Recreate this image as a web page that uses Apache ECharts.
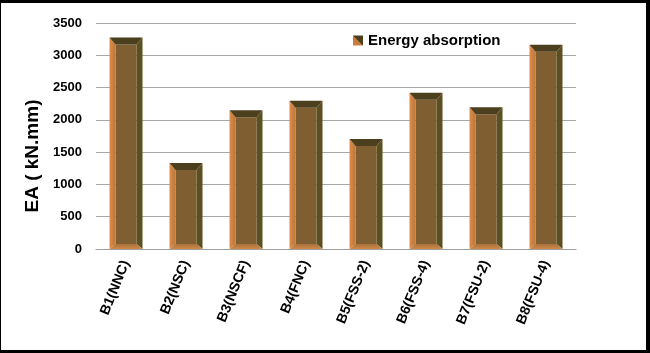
<!DOCTYPE html>
<html>
<head>
<meta charset="utf-8">
<script src="https://cdn.jsdelivr.net/npm/echarts@6/dist/echarts.min.js"></script>
<style>
  body { margin: 0; }
  #frame { position: relative; width: 650px; height: 353px; background: #000; }
  #chart { position: absolute; left: 1px; top: 3px; width: 645px; height: 347px; background: #fff; }
</style>
</head>
<body>
<div id="frame"><div id="chart"></div></div>
<script>
var categories = ['B1(NNC)', 'B2(NSC)', 'B3(NSCF)', 'B4(FNC)', 'B5(FSS-2)', 'B6(FSS-4)', 'B7(FSU-2)', 'B8(FSU-4)']
var energy = [3275, 1330, 2150, 2295, 1705, 2420, 2195, 3165]
var yTicks = [0, 500, 1000, 1500, 2000, 2500, 3000, 3500]

var chart = echarts.init(document.getElementById('chart'))

// bevelled 3D-looking bar, like the excel one
function renderBar(params, api) {
  var i = api.value(0)
  var top = api.coord([i, api.value(1)])
  var base = api.coord([i, 0])
  var w = api.size([1, 0])[0] * 0.55
  var x0 = top[0] - w / 2, x1 = top[0] + w / 2
  var y0 = top[1], y1 = base[1]
  var bl = 6, br = 6, bt = 7, bb = 5
  var ix0 = x0 + bl, ix1 = x1 - br, iy0 = y0 + bt, iy1 = y1 - bb
  function poly(pts, fill) {
    return { type: 'polygon', shape: { points: pts }, style: { fill: fill } }
  }
  return {
    type: 'group',
    children: [
      { type: 'rect', shape: { x: ix0, y: iy0, width: ix1 - ix0, height: iy1 - iy0 }, style: { fill: '#7f5f31' } },
      poly([[x0, y0], [ix0, iy0], [ix0, iy1], [x0, y1]],
        new echarts.graphic.LinearGradient(0, 0, 1, 0, [{ offset: 0, color: '#e08c48' }, { offset: 1, color: '#b9773a' }])),
      poly([[x1, y0], [ix1, iy0], [ix1, iy1], [x1, y1]], '#5c5021'),
      poly([[x0, y0], [x1, y0], [ix1, iy0], [ix0, iy0]], '#4b3f1e'),
      poly([[x0, y1], [x1, y1], [ix1, iy1], [ix0, iy1]],
        new echarts.graphic.LinearGradient(0, 0, 0, 1, [{ offset: 0, color: '#a8703a' }, { offset: 1, color: '#d08a4a' }]))
    ]
  }
}

chart.setOption({
  animation: false,
  grid: {
    left: 95,
    right: 70,
    top: 20,
    bottom: 101
  },
  legend: {
    left: 352,
    top: 30,
    padding: 0,
    itemWidth: 10,
    itemHeight: 10,
    itemGap: 4,
    textStyle: { fontFamily: 'Arial', fontWeight: 'bold', fontSize: 15, color: '#000' },
    data: [{ name: 'Energy absorption', icon: 'rect' }]
  },
  graphic: [{
    type: 'text',
    x: 32,
    y: 153,
    rotation: Math.PI / 2,
    style: {
      text: 'EA ( kN.mm)',
      fontFamily: 'Arial',
      fontWeight: 'bold',
      fontSize: 19,
      fill: '#000',
      align: 'center',
      verticalAlign: 'middle'
    }
  }],
  xAxis: {
    type: 'category',
    data: categories,
    axisLine: { lineStyle: { color: '#a0a0a0' } },
    axisTick: { show: false },
    axisLabel: {
      interval: 0,
      rotate: 68,
      margin: 12,
      fontFamily: 'Arial',
      fontWeight: 'bold',
      fontSize: 14,
      color: '#000'
    }
  },
  yAxis: {
    type: 'value',
    min: yTicks[0],
    max: yTicks[yTicks.length - 1],
    interval: 500,
    axisLine: { show: false },
    axisTick: { show: false },
    axisLabel: {
      margin: 14,
      fontFamily: 'Arial',
      fontWeight: 'bold',
      fontSize: 13,
      color: '#000',
      formatter: function (v) { return String(v) }
    },
    splitLine: { lineStyle: { color: '#a8a8a8' } }
  },
  series: [{
    name: 'Energy absorption',
    type: 'custom',
    renderItem: renderBar,
    itemStyle: {
      color: new echarts.graphic.LinearGradient(0, 1, 1, 0, [
        { offset: 0, color: '#d0823f' }, { offset: 0.5, color: '#c07a3c' },
        { offset: 0.5, color: '#4b3f1e' }, { offset: 1, color: '#4b3f1e' }
      ])
    },
    encode: { x: 0, y: 1 },
    data: energy.map(function (v, i) { return [i, v] })
  }]
})
</script>
</body>
</html>
